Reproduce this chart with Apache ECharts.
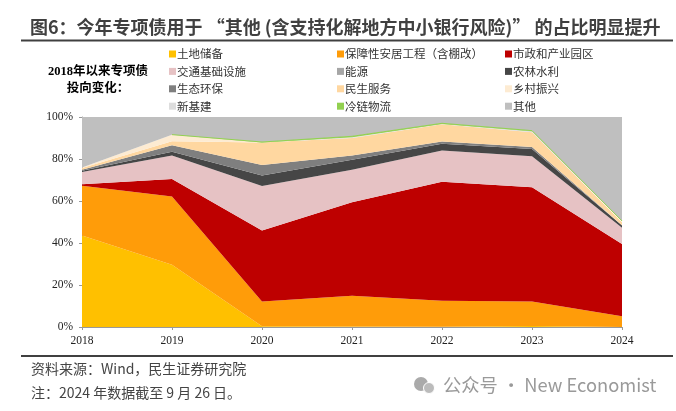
<!DOCTYPE html>
<html><head><meta charset="utf-8">
<style>html,body{margin:0;padding:0;background:#fff}#c{width:676px;height:411px}</style>
<script src="https://cdn.jsdelivr.net/npm/echarts@6/dist/echarts.min.js"></script>
</head><body><div id="c"></div>
<script>
const years = ['2018','2019','2020','2021','2022','2023','2024'];
const land = [43.6,29.7,0.3,0.2,0.1,0.5,0];
const housing = [23.7,32.5,11.9,14.7,12.4,11.7,5.1];
const municipal = [0.7,8.3,33.7,44.5,56.7,54.3,34.4];
const transport = [5.8,11.2,21.2,15.5,14.8,14.8,7.8];
const energy = [0,0,0,0,0,0,0];
const agri = [0.6,1.8,5.1,4.8,3.3,3.5,1.0];
const eco = [0.5,3.0,4.9,2.0,1.0,0.9,0.1];
const livelihood = [0.8,1.9,10.7,8.3,8.2,7.0,1.5];
const rural = [0.3,3.2,0,0,0,0,0];
const newInfra = [0,0,0.1,0.4,0.2,0.5,0.2];
const coldChain = [null,0,0.2,0.4,0.3,0.3,0.4];
const other = [24,8.4,12,9.2,3,6.5,49.5];
const names = ['土地储备','保障性安居工程（含棚改）','市政和产业园区','交通基础设施','能源','农林水利','生态环保','民生服务','乡村振兴','新基建','冷链物流','其他'];
const values = [land,housing,municipal,transport,energy,agri,eco,livelihood,rural,newInfra,coldChain,other];
const colors = ['#FFC000','#FF9C09','#BE0000','#E6C2C4','#A6A6A6','#464646','#7F7F7F','#FFD7A0','#FDEBD2','#DDDDDD','#92D050','#BFBFBF'];
const serif = '"Liberation Serif","Noto Sans CJK SC",serif';
const cjk = '"Noto Sans CJK SC",sans-serif';
const legendCol = (left, idx) => ({
  left, top: 42, orient:'vertical', itemWidth:7, itemHeight:7, itemGap:3.4, icon:'rect',
  textStyle:{fontFamily:cjk,fontSize:11.5,color:'#333',padding:[0,0,0,-4],lineHeight:14},
  data: idx.map(i=>names[i])
});
const text = (x,y,t,style) => ({type:'text',x,y,silent:true,style:Object.assign({text:t,textVerticalAlign:'middle'},style)});
const chart = echarts.init(document.getElementById('c'),null,{renderer:'canvas'});
chart.setOption({
  animation:false, backgroundColor:'#fff',
  title:{text:'图6：今年专项债用于 “其他 (含支持化解地方中小银行风险)” 的占比明显提升',left:30,top:18,padding:0,
    textStyle:{fontFamily:cjk,fontSize:18,fontWeight:'bold',color:'#404040'}},
  legend:[legendCol(164,[0,3,6,9]),legendCol(332,[1,4,7,10]),legendCol(500,[2,5,8,11])],
  grid:{left:82,right:54,top:117,bottom:84},
  xAxis:{type:'category',data:years,boundaryGap:false,
    axisLine:{lineStyle:{color:'#999'}},axisTick:{show:true,length:3,lineStyle:{color:'#999'},alignWithLabel:true},
    axisLabel:{fontFamily:serif,fontSize:11.5,color:'#222',margin:8}},
  yAxis:{type:'value',min:0,max:100,interval:20,
    axisLine:{show:true,lineStyle:{color:'#999'}},axisTick:{show:true,length:3,lineStyle:{color:'#999'}},
    splitLine:{show:false},
    axisLabel:{formatter:'{value}%',fontFamily:serif,fontSize:11.5,color:'#222',margin:9}},
  series:names.map((n,i)=>({name:n,type:'line',stack:'t',data:values[i],symbol:'none',z:2,
    lineStyle:{width:i===10?1:0,color:colors[i]},itemStyle:{color:colors[i]},
    areaStyle:{color:colors[i],opacity:1}})),
  graphic:[
    {type:'rect',shape:{x:21,y:39.5,width:652,height:2},style:{fill:'#404040'},silent:true},
    {type:'rect',shape:{x:21,y:355,width:652,height:2},style:{fill:'#404040'},silent:true},
    text(98,72,'2018年以来专项债',{fill:'#000',font:'bold 12.5px '+serif,textAlign:'center'}),
    text(98,89,'投向变化：',{fill:'#000',font:'bold 12.5px '+serif,textAlign:'center'}),
    text(31,369,'资料来源：Wind，民生证券研究院',{fill:'#444',font:'14px '+cjk}),
    text(31,393,'注：2024 年数据截至 9 月 26 日。',{fill:'#444',font:'14px '+cjk}),
    {type:'circle',shape:{cx:421,cy:384,r:7},style:{fill:'#aaa'},silent:true},
    {type:'circle',shape:{cx:429,cy:388,r:5.5},style:{fill:'#bbb',stroke:'#fff',lineWidth:1},silent:true},
    text(443,385,'公众号 · New Economist',{fill:'#9a9a9a',font:'18.3px '+cjk})
  ]
});
</script></body></html>
